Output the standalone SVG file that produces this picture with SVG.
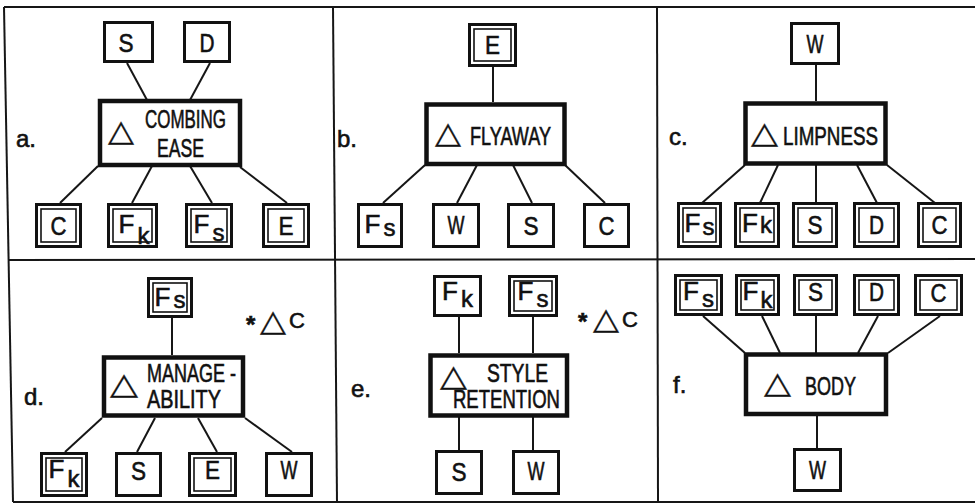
<svg xmlns="http://www.w3.org/2000/svg" width="975" height="504" viewBox="0 0 975 504">
  <style>
    .frame { stroke: #161616; stroke-width: 2; fill: none; }
    .edge { stroke: #161616; stroke-width: 2; fill: none; }
    .main { fill: #fff; stroke: #111; stroke-width: 4.5; }
    .box { fill: #fff; stroke: #111; stroke-width: 3; }
    .inner { fill: none; stroke: #111; stroke-width: 1.6; }
    text { font-family: "Liberation Sans", Arial, sans-serif; fill: #111; stroke: #111; stroke-width: 0.6; }
    .lt { font-size: 26px; text-anchor: middle; }
    .sub { font-size: 24px; }
    .nm { font-size: 25px; }
    .tag { font-size: 24px; }
    .delta { font-family: "DejaVu Sans", sans-serif; font-size: 30px; stroke-width: 0.3; }
    .star { font-size: 24px; font-weight: bold; }
    .note { font-size: 22px; }
  </style>
  <rect width="975" height="504" fill="#fff"/>

  <!-- panel frame and dividers -->
  <g id="frame">
    <line class="frame" x1="4" y1="7" x2="975" y2="7"/>
    <line class="frame" x1="4" y1="7" x2="13" y2="502"/>
    <line class="frame" x1="333" y1="7" x2="337" y2="502"/>
    <line class="frame" x1="657" y1="7" x2="658" y2="502"/>
    <line class="frame" x1="8" y1="260" x2="975" y2="259"/>
    <line class="frame" x1="13" y1="502" x2="975" y2="502"/>
  </g>

  <!-- connectors -->
  <g id="connectors">
    <!-- a -->
    <line class="edge" x1="127" y1="63" x2="147" y2="100"/>
    <line class="edge" x1="210" y1="63" x2="190" y2="100"/>
    <line class="edge" x1="98" y1="166" x2="60" y2="203"/>
    <line class="edge" x1="152" y1="166" x2="132" y2="203"/>
    <line class="edge" x1="190" y1="166" x2="212" y2="203"/>
    <line class="edge" x1="240" y1="167" x2="287" y2="203"/>
    <!-- b -->
    <line class="edge" x1="493" y1="67" x2="493" y2="102"/>
    <line class="edge" x1="425" y1="165" x2="383" y2="203"/>
    <line class="edge" x1="477" y1="165" x2="457" y2="203"/>
    <line class="edge" x1="513" y1="165" x2="532" y2="203"/>
    <line class="edge" x1="565" y1="165" x2="605" y2="203"/>
    <!-- c -->
    <line class="edge" x1="816" y1="65" x2="816" y2="101"/>
    <line class="edge" x1="745" y1="165" x2="702" y2="203"/>
    <line class="edge" x1="778" y1="165" x2="760" y2="203"/>
    <line class="edge" x1="816" y1="165" x2="816" y2="203"/>
    <line class="edge" x1="857" y1="165" x2="877" y2="203"/>
    <line class="edge" x1="887" y1="165" x2="935" y2="203"/>
    <!-- d -->
    <line class="edge" x1="172" y1="318" x2="172" y2="355"/>
    <line class="edge" x1="102" y1="418" x2="65" y2="452"/>
    <line class="edge" x1="155" y1="418" x2="137" y2="452"/>
    <line class="edge" x1="198" y1="418" x2="217" y2="452"/>
    <line class="edge" x1="245" y1="418" x2="292" y2="452"/>
    <!-- e -->
    <line class="edge" x1="459" y1="317" x2="459" y2="353"/>
    <line class="edge" x1="533" y1="317" x2="533" y2="353"/>
    <line class="edge" x1="459" y1="417" x2="459" y2="450"/>
    <line class="edge" x1="533" y1="417" x2="533" y2="450"/>
    <!-- f -->
    <line class="edge" x1="703" y1="316" x2="745" y2="353"/>
    <line class="edge" x1="762" y1="316" x2="780" y2="353"/>
    <line class="edge" x1="816" y1="316" x2="816" y2="353"/>
    <line class="edge" x1="878" y1="316" x2="858" y2="353"/>
    <line class="edge" x1="940" y1="316" x2="888" y2="353"/>
    <line class="edge" x1="817" y1="415" x2="817" y2="448"/>
  </g>

  <!-- ===== panel a ===== -->
  <g id="a-label"><text class="tag" x="16" y="147">a.</text></g>
  <g id="a-combing-ease">
    <rect class="main" x="100" y="101" width="140" height="64"/>
    <text class="delta" x="108" y="141" textLength="26" lengthAdjust="spacingAndGlyphs">△</text>
    <text class="nm" x="145" y="128" textLength="81" lengthAdjust="spacingAndGlyphs">COMBING</text>
    <text class="nm" x="157" y="157" textLength="47" lengthAdjust="spacingAndGlyphs">EASE</text>
  </g>
  <g id="a-S"><rect class="box" x="104.5" y="22.5" width="48" height="39"/><text class="lt" x="126" y="52" textLength="15" lengthAdjust="spacingAndGlyphs">S</text></g>
  <g id="a-D"><rect class="box" x="184.5" y="22.5" width="45" height="39"/><text class="lt" x="207" y="52" textLength="15" lengthAdjust="spacingAndGlyphs">D</text></g>
  <g id="a-C"><rect class="box" x="36.5" y="204.5" width="44" height="42"/><rect class="inner" x="41" y="209" width="35" height="33"/><text class="lt" x="58.5" y="235" textLength="16" lengthAdjust="spacingAndGlyphs">C</text></g>
  <g id="a-Fk"><rect class="box" x="108.5" y="204.5" width="48" height="42"/><rect class="inner" x="113" y="209" width="39" height="33"/><text class="lt" x="134" y="233">F<tspan class="sub" dx="3" dy="11">k</tspan></text></g>
  <g id="a-Fs"><rect class="box" x="186.5" y="204.5" width="45" height="42"/><rect class="inner" x="191" y="209" width="36" height="33"/><text class="lt" x="209" y="233">F<tspan class="sub" dx="3" dy="8">s</tspan></text></g>
  <g id="a-E"><rect class="box" x="263.5" y="204.5" width="45" height="42"/><rect class="inner" x="268" y="209" width="36" height="33"/><text class="lt" x="286" y="235" textLength="15" lengthAdjust="spacingAndGlyphs">E</text></g>

  <!-- ===== panel b ===== -->
  <g id="b-label"><text class="tag" x="337" y="147">b.</text></g>
  <g id="b-flyaway">
    <rect class="main" x="426.5" y="104.5" width="138" height="59.5"/>
    <text class="delta" x="435" y="143" textLength="26" lengthAdjust="spacingAndGlyphs">△</text>
    <text class="nm" x="470" y="145" textLength="81" lengthAdjust="spacingAndGlyphs">FLYAWAY</text>
  </g>
  <g id="b-E"><rect class="box" x="469.5" y="24.5" width="46" height="41"/><rect class="inner" x="474" y="29" width="37" height="32"/><text class="lt" x="492.5" y="54" textLength="15" lengthAdjust="spacingAndGlyphs">E</text></g>
  <g id="b-Fs"><rect class="box" x="358.5" y="204.5" width="43" height="42"/><text class="lt" x="380" y="233">F<tspan class="sub" dx="3" dy="3">s</tspan></text></g>
  <g id="b-W"><rect class="box" x="433.5" y="204.5" width="45" height="42"/><text class="lt" x="456" y="234" textLength="17" lengthAdjust="spacingAndGlyphs">W</text></g>
  <g id="b-S"><rect class="box" x="508.5" y="204.5" width="45" height="42"/><text class="lt" x="531" y="235" textLength="15" lengthAdjust="spacingAndGlyphs">S</text></g>
  <g id="b-C"><rect class="box" x="584.5" y="204.5" width="44" height="42"/><text class="lt" x="606.5" y="235" textLength="16" lengthAdjust="spacingAndGlyphs">C</text></g>

  <!-- ===== panel c ===== -->
  <g id="c-label"><text class="tag" x="669" y="145">c.</text></g>
  <g id="c-limpness">
    <rect class="main" x="745.5" y="103.5" width="140" height="60"/>
    <text class="delta" x="751" y="143" textLength="27" lengthAdjust="spacingAndGlyphs">△</text>
    <text class="nm" x="783" y="145" textLength="95" lengthAdjust="spacingAndGlyphs">LIMPNESS</text>
  </g>
  <g id="c-W"><rect class="box" x="791.5" y="23.5" width="47" height="40"/><text class="lt" x="815" y="53" textLength="17" lengthAdjust="spacingAndGlyphs">W</text></g>
  <g id="c-Fs"><rect class="box" x="678.5" y="203.5" width="42" height="43"/><rect class="inner" x="683" y="208" width="33" height="34"/><text class="lt" x="699.5" y="232">F<tspan class="sub" dx="2" dy="3">s</tspan></text></g>
  <g id="c-Fk"><rect class="box" x="735.5" y="203.5" width="43" height="43"/><rect class="inner" x="740" y="208" width="34" height="34"/><text class="lt" x="757" y="232">F<tspan class="sub" dx="2" dy="1">k</tspan></text></g>
  <g id="c-S"><rect class="box" x="793.5" y="203.5" width="43" height="43"/><rect class="inner" x="798" y="208" width="34" height="34"/><text class="lt" x="815" y="234" textLength="15" lengthAdjust="spacingAndGlyphs">S</text></g>
  <g id="c-D"><rect class="box" x="854.5" y="203.5" width="44" height="43"/><rect class="inner" x="859" y="208" width="35" height="34"/><text class="lt" x="876.5" y="234" textLength="15" lengthAdjust="spacingAndGlyphs">D</text></g>
  <g id="c-C"><rect class="box" x="918.5" y="203.5" width="42" height="43"/><rect class="inner" x="923" y="208" width="33" height="34"/><text class="lt" x="939.5" y="234" textLength="16" lengthAdjust="spacingAndGlyphs">C</text></g>

  <!-- ===== panel d ===== -->
  <g id="d-label"><text class="tag" x="24" y="405">d.</text></g>
  <g id="d-note">
    <text class="star" x="246" y="333">*</text>
    <text class="delta" x="260" y="331" textLength="26" lengthAdjust="spacingAndGlyphs">△</text>
    <text class="note" x="289" y="328">C</text>
  </g>
  <g id="d-manageability">
    <rect class="main" x="104" y="357.5" width="139" height="58"/>
    <text class="delta" x="110" y="394" textLength="28" lengthAdjust="spacingAndGlyphs">△</text>
    <text class="nm" x="147" y="382" textLength="89" lengthAdjust="spacingAndGlyphs">MANAGE -</text>
    <text class="nm" x="147" y="408" textLength="74" lengthAdjust="spacingAndGlyphs">ABILITY</text>
  </g>
  <g id="d-Fs"><rect class="box" x="148.5" y="278.5" width="43" height="38"/><rect class="inner" x="153" y="283" width="34" height="29"/><text class="lt" x="170" y="306">F<tspan class="sub" dx="3" dy="2">s</tspan></text></g>
  <g id="d-Fk"><rect class="box" x="41.5" y="453.5" width="45" height="42"/><rect class="inner" x="46" y="458" width="36" height="33"/><text class="lt" x="64" y="478">F<tspan class="sub" dx="3" dy="9">k</tspan></text></g>
  <g id="d-S"><rect class="box" x="116.5" y="453.5" width="44" height="42"/><text class="lt" x="138.5" y="480" textLength="15" lengthAdjust="spacingAndGlyphs">S</text></g>
  <g id="d-E"><rect class="box" x="189.5" y="453.5" width="46" height="42"/><rect class="inner" x="194" y="458" width="37" height="33"/><text class="lt" x="212.5" y="479" textLength="15" lengthAdjust="spacingAndGlyphs">E</text></g>
  <g id="d-W"><rect class="box" x="266.5" y="453.5" width="45" height="42"/><text class="lt" x="289" y="479" textLength="17" lengthAdjust="spacingAndGlyphs">W</text></g>

  <!-- ===== panel e ===== -->
  <g id="e-label"><text class="tag" x="351" y="397">e.</text></g>
  <g id="e-note">
    <text class="star" x="578" y="330">*</text>
    <text class="delta" x="593" y="329" textLength="26" lengthAdjust="spacingAndGlyphs">△</text>
    <text class="note" x="622" y="327">C</text>
  </g>
  <g id="e-style-retention">
    <rect class="main" x="430.5" y="355.5" width="136.5" height="60"/>
    <text class="delta" x="440" y="386" textLength="27" lengthAdjust="spacingAndGlyphs">△</text>
    <text class="nm" x="487" y="382" textLength="61" lengthAdjust="spacingAndGlyphs">STYLE</text>
    <text class="nm" x="453" y="408" textLength="107" lengthAdjust="spacingAndGlyphs">RETENTION</text>
  </g>
  <g id="e-Fk"><rect class="box" x="434.5" y="276.5" width="46" height="39"/><text class="lt" x="457.5" y="300">F<tspan class="sub" dx="3" dy="7">k</tspan></text></g>
  <g id="e-Fs"><rect class="box" x="509.5" y="276.5" width="47" height="39"/><rect class="inner" x="514" y="281" width="38" height="30"/><text class="lt" x="533" y="300">F<tspan class="sub" dx="3" dy="7">s</tspan></text></g>
  <g id="e-S"><rect class="box" x="436.5" y="451.5" width="45" height="42"/><text class="lt" x="459" y="481" textLength="15" lengthAdjust="spacingAndGlyphs">S</text></g>
  <g id="e-W"><rect class="box" x="513.5" y="451.5" width="45" height="42"/><text class="lt" x="536" y="480" textLength="17" lengthAdjust="spacingAndGlyphs">W</text></g>

  <!-- ===== panel f ===== -->
  <g id="f-label"><text class="tag" x="673" y="393">f.</text></g>
  <g id="f-body">
    <rect class="main" x="746" y="354.5" width="140" height="59.5"/>
    <text class="delta" x="764" y="393" textLength="27" lengthAdjust="spacingAndGlyphs">△</text>
    <text class="nm" x="805" y="395" textLength="51" lengthAdjust="spacingAndGlyphs">BODY</text>
  </g>
  <g id="f-Fs"><rect class="box" x="675.5" y="275.5" width="46" height="39"/><rect class="inner" x="680" y="280" width="37" height="30"/><text class="lt" x="698.5" y="300">F<tspan class="sub" dx="3" dy="7">s</tspan></text></g>
  <g id="f-Fk"><rect class="box" x="736.5" y="275.5" width="42" height="39"/><rect class="inner" x="741" y="280" width="33" height="30"/><text class="lt" x="757.5" y="300">F<tspan class="sub" dx="2" dy="8">k</tspan></text></g>
  <g id="f-S"><rect class="box" x="794.5" y="275.5" width="42" height="39"/><rect class="inner" x="799" y="280" width="33" height="30"/><text class="lt" x="815.5" y="301" textLength="15" lengthAdjust="spacingAndGlyphs">S</text></g>
  <g id="f-D"><rect class="box" x="854.5" y="275.5" width="44" height="39"/><rect class="inner" x="859" y="280" width="35" height="30"/><text class="lt" x="876.5" y="301" textLength="15" lengthAdjust="spacingAndGlyphs">D</text></g>
  <g id="f-C"><rect class="box" x="915.5" y="275.5" width="46" height="39"/><rect class="inner" x="920" y="280" width="37" height="30"/><text class="lt" x="938.5" y="302" textLength="16" lengthAdjust="spacingAndGlyphs">C</text></g>
  <g id="f-W"><rect class="box" x="794.5" y="449.5" width="46" height="41"/><text class="lt" x="817.5" y="479" textLength="17" lengthAdjust="spacingAndGlyphs">W</text></g>
</svg>
